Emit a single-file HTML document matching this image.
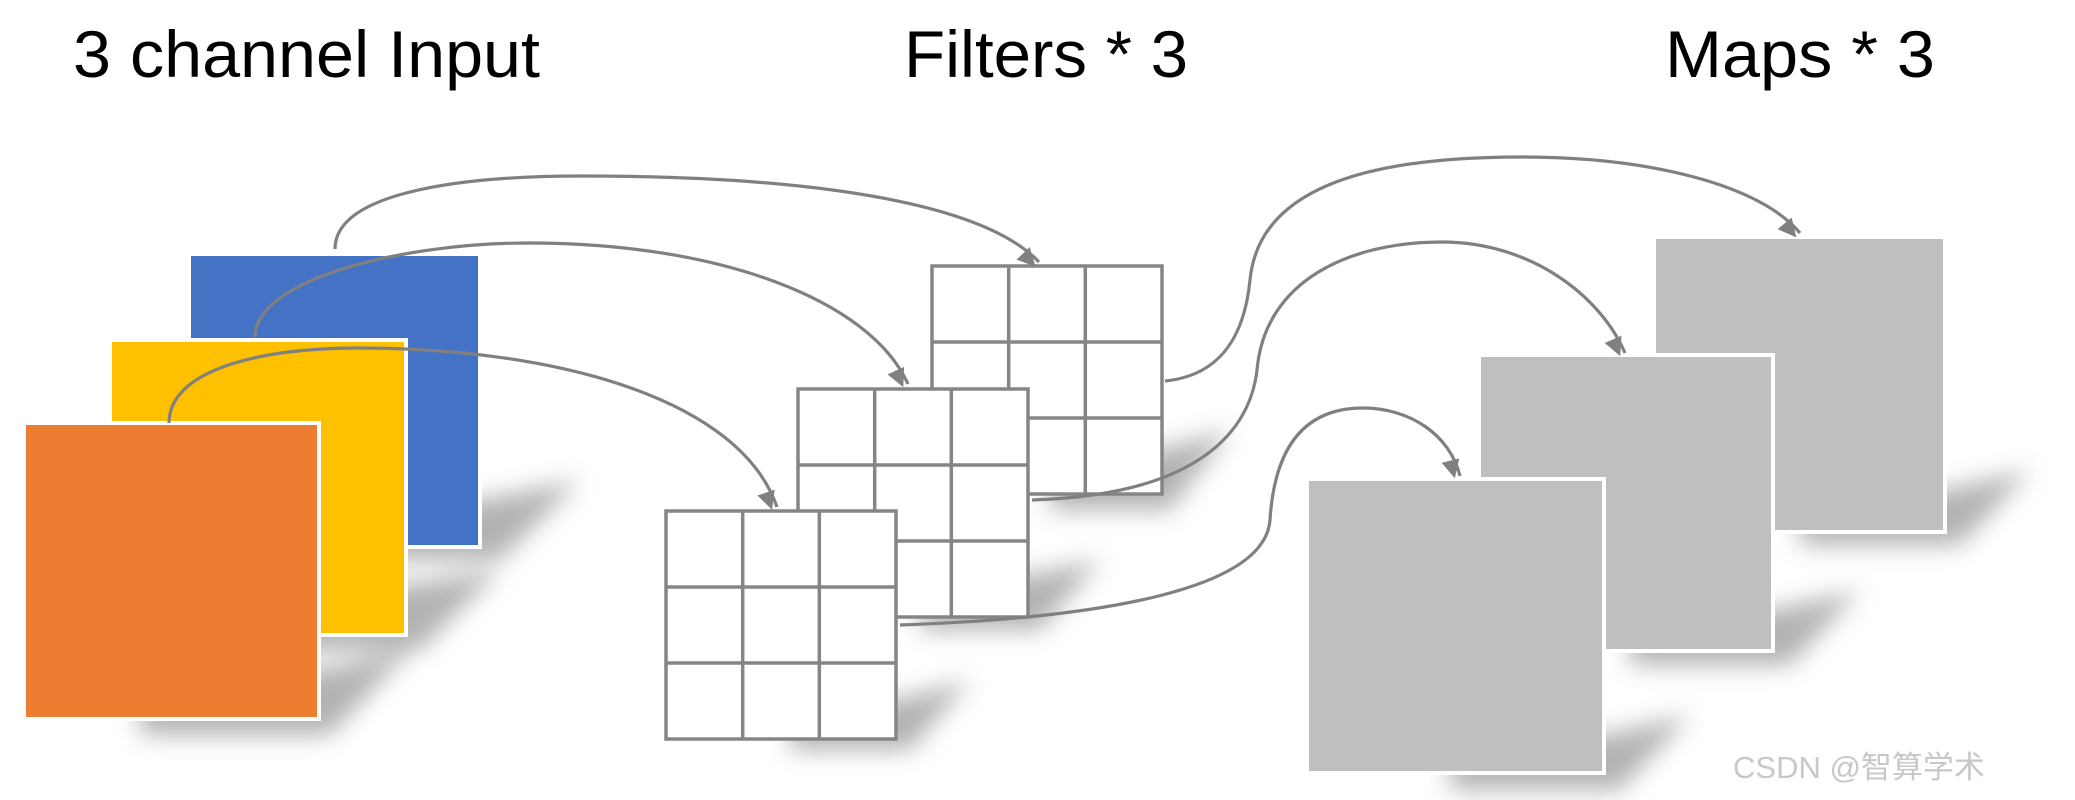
<!DOCTYPE html>
<html><head><meta charset="utf-8"><style>
html,body{margin:0;padding:0;background:#fff;width:2075px;height:800px;overflow:hidden}
svg{display:block}
</style></head><body>
<svg width="2075" height="800" viewBox="0 0 2075 800" xmlns="http://www.w3.org/2000/svg">
<defs>
<filter id="blur" x="-50%" y="-50%" width="200%" height="200%"><feGaussianBlur stdDeviation="12"/></filter>
<marker id="ah" viewBox="0 0 10 10" refX="9" refY="5" markerWidth="7" markerHeight="7" orient="auto" markerUnits="userSpaceOnUse" style="overflow:visible">
<path d="M0,0 L10,5 L0,10 z" fill="#808080" transform="scale(2.6) translate(-6,-5) translate(0,5)"/>
</marker>
<g id="grid">
<rect x="0" y="0" width="230" height="228" fill="#fff" stroke="#858585" stroke-width="3.5"/>
<line x1="76.7" y1="0" x2="76.7" y2="228" stroke="#858585" stroke-width="3.5"/>
<line x1="153.3" y1="0" x2="153.3" y2="228" stroke="#858585" stroke-width="3.5"/>
<line x1="0" y1="76" x2="230" y2="76" stroke="#858585" stroke-width="3.5"/>
<line x1="0" y1="152" x2="230" y2="152" stroke="#858585" stroke-width="3.5"/>
</g>
</defs>

<g font-family="'Liberation Sans', sans-serif" fill="#000">
<text x="73" y="77" font-size="66" textLength="467" lengthAdjust="spacingAndGlyphs">3 channel Input</text>
<text x="904" y="77" font-size="66" textLength="284" lengthAdjust="spacingAndGlyphs">Filters * 3</text>
<text x="1665" y="77" font-size="66" textLength="270" lengthAdjust="spacingAndGlyphs">Maps * 3</text>
</g>

<!-- shadows -->
<g fill="#999" opacity="0.75" filter="url(#blur)">
<polygon points="300,500 480,500 580,480 500,560 300,560"/>
<polygon points="220,585 406,585 500,570 420,650 220,650"/>
<polygon points="140,670 319,670 410,650 330,735 140,735"/>
<polygon points="1050,450 1159,450 1230,430 1170,510 1050,510"/>
<polygon points="920,575 1028,575 1100,560 1040,630 920,630"/>
<polygon points="790,700 896,700 970,680 910,750 790,750"/>
<polygon points="1800,490 1945,490 2030,470 1960,545 1800,545"/>
<polygon points="1630,610 1773,610 1860,590 1790,665 1630,665"/>
<polygon points="1450,735 1604,735 1690,715 1620,790 1450,790"/>
</g>

<!-- input squares -->
<rect x="189" y="254" width="291" height="293" fill="#4472c4" stroke="#fff" stroke-width="4"/>
<rect x="110" y="340" width="296" height="295" fill="#ffc000" stroke="#fff" stroke-width="4"/>
<rect x="24" y="423" width="295" height="296" fill="#ed7d31" stroke="#fff" stroke-width="4"/>

<!-- filters -->
<use href="#grid" x="932" y="266"/>
<use href="#grid" x="798" y="389"/>
<use href="#grid" x="666" y="511"/>

<!-- maps -->
<rect x="1654" y="237" width="291" height="295" fill="#bfbfbf" stroke="#fff" stroke-width="4"/>
<rect x="1479" y="355" width="294" height="296" fill="#bfbfbf" stroke="#fff" stroke-width="4"/>
<rect x="1307" y="479" width="297" height="294" fill="#bfbfbf" stroke="#fff" stroke-width="4"/>

<!-- arrows -->
<g fill="none" stroke="#808080" stroke-width="3.2" marker-end="url(#ah)">
<path d="M335,249 C335,195 450,176 582,176 C800,176 980,200 1039,262"/>
<path d="M255,337 C255,280 400,243 529,243 C720,243 870,300 908,384"/>
<path d="M169,423 C169,370 260,348 357,348 C560,348 740,400 777,507"/>
<path d="M1165,381 C1225,375 1245,330 1250,280 C1260,175 1400,157 1522,157 C1650,157 1760,185 1800,233"/>
<path d="M1032,500 C1200,495 1250,430 1257,370 C1265,280 1350,242 1442,242 C1530,242 1600,295 1625,353"/>
<path d="M900,625 C1100,618 1265,590 1270,520 C1275,440 1310,408 1363,408 C1410,408 1450,435 1460,476"/>
</g>

<text x="1733" y="778" font-family="'Liberation Sans','Noto Sans CJK SC',sans-serif" font-size="31" fill="#c8c8c8">CSDN @智算学术</text>
</svg>
</body></html>
